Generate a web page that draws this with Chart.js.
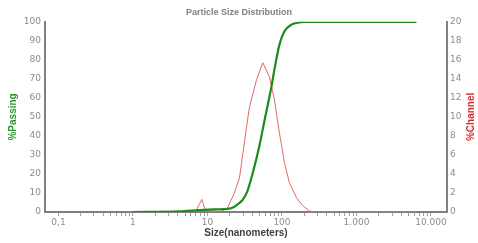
<!DOCTYPE html>
<html>
<head>
<meta charset="utf-8">
<script src="https://cdn.jsdelivr.net/npm/chart.js@4"></script>
<style>
  body { margin: 0; background: #fff; }
  #wrap { width: 478px; height: 243px; }
</style>
</head>
<body>
<div id="wrap"><canvas id="psdChart"></canvas></div>
<script>
// values
const passingSize = [1, 4.2, 7.8, 12.4, 19.7, 23, 26.9, 29.5, 34.4, 40.2, 49.9, 58.2, 72.3, 79.3, 92.5, 108, 134, 161, 200, 6390];
const passingPct  = [0, 0.3, 1.0, 1.4, 1.8, 2.8, 4.8, 6.2, 11, 20, 35, 48, 66, 75, 88, 95, 98.5, 99.5, 100, 100];

const channelSize = [0.85, 6.9, 8.4, 9.4, 12.4, 15.4, 18.5, 23, 26.9, 33.4, 36.6, 45.5, 55.3, 68, 79.3, 92.5, 108, 126, 157, 188, 234, 300, 6390];
const channelPct  = [0, 0, 1.33, 0.15, 0.1, 0.1, 0.4, 2.0, 3.6, 8.9, 11, 13.9, 15.7, 14.2, 11.8, 8.3, 5.2, 3.05, 1.5, 0.7, 0.1, 0, 0];

// x axis labels (decades only)
const xTickValues = [0.1, 1, 10, 100, 1000, 10000];
const xTickLabels = ['0,1', '1', '10', '100', '1.000', '10.000'];

const toPoints = (xs, ys) => xs.map((x, i) => ({ x: x, y: ys[i] }));

const tickFont = { family: 'DejaVu Sans', size: 9 };
const tickColor = '#8c8c8c';
const axisColor = '#808080';

// right axis title reads bottom-to-top, so draw it by hand
const rightTitle = {
    id: 'rightTitle',
    afterDraw(chart) {
        const { ctx, chartArea } = chart;
        ctx.save();
        ctx.translate(471, (chartArea.top + chartArea.bottom) / 2);
        ctx.rotate(-Math.PI / 2);
        ctx.font = 'bold 10px "Liberation Sans"';
        ctx.fillStyle = '#d42a2a';
        ctx.textAlign = 'center';
        ctx.textBaseline = 'middle';
        ctx.fillText('%Channel', 0, 0);
        ctx.restore();
    }
};

const ctx = document.getElementById('psdChart').getContext('2d');
new Chart(ctx, {
    type: 'line',
    data: {
        datasets: [
            {
                label: '%Passing',
                data: toPoints(passingSize, passingPct),
                borderColor: '#1b8c1b',
                borderWidth: 2.2,
                pointRadius: 0,
                cubicInterpolationMode: 'monotone',
                fill: false,
                yAxisID: 'y'
            },
            {
                label: '%Channel',
                data: toPoints(channelSize, channelPct),
                borderColor: '#e06a6a',
                borderWidth: 1,
                pointRadius: 0,
                tension: 0,
                fill: false,
                yAxisID: 'y1'
            }
        ]
    },
    options: {
        responsive: true,
        maintainAspectRatio: false,
        animation: false,
        layout: { padding: 0 },
        plugins: {
            legend: { display: false },
            tooltip: { enabled: false },
            title: {
                display: true,
                text: 'Particle Size Distribution',
                color: '#808080',
                font: { family: 'Liberation Sans', size: 9, weight: 'bold' },
                padding: { top: 7, bottom: 4 }
            }
        },
        scales: {
            x: {
                type: 'logarithmic',
                position: 'bottom',
                min: 0.066,
                max: 16400,
                afterFit: s => { s.height = 31; },
                afterBuildTicks: s => {
                    const t = [];
                    xTickValues.forEach(d => {
                        for (let m = 1; m <= 9; m++) {
                            const v = d * m;
                            if (v <= s.max) t.push({ value: v });
                        }
                    });
                    s.ticks = t;
                },
                grid: { drawOnChartArea: false, drawTicks: true, tickLength: 4, color: '#a0a0a0' },
                border: { color: axisColor, width: 2 },
                ticks: {
                    autoSkip: false,
                    maxRotation: 0,
                    padding: 1,
                    color: tickColor,
                    font: tickFont,
                    callback: v => {
                        const i = xTickValues.findIndex(d => Math.abs(d - v) < d * 1e-6);
                        return i >= 0 ? xTickLabels[i] : '';
                    }
                },
                title: {
                    display: true,
                    text: 'Size(nanometers)',
                    color: '#404040',
                    font: { family: 'Liberation Sans', size: 10, weight: 'bold' },
                    padding: { top: 0, bottom: 4 }
                }
            },
            y: {
                position: 'left',
                min: 0,
                max: 100,
                afterFit: s => { s.width = 45; },
                grid: { drawOnChartArea: false, drawTicks: false },
                border: { color: axisColor, width: 2 },
                ticks: { stepSize: 10, padding: 4, color: tickColor, font: tickFont },
                title: {
                    display: true,
                    text: '%Passing',
                    color: '#2a9a2a',
                    font: { family: 'Liberation Sans', size: 10, weight: 'bold' },
                    padding: { top: 7, bottom: 0 }
                }
            },
            y1: {
                position: 'right',
                min: 0,
                max: 20,
                afterFit: s => { s.width = 31; },
                grid: { drawOnChartArea: false, drawTicks: false },
                border: { color: axisColor, width: 2 },
                ticks: { stepSize: 2, padding: 3, color: tickColor, font: tickFont }
            }
        }
    },
    plugins: [rightTitle]
});
</script>
</body>
</html>
